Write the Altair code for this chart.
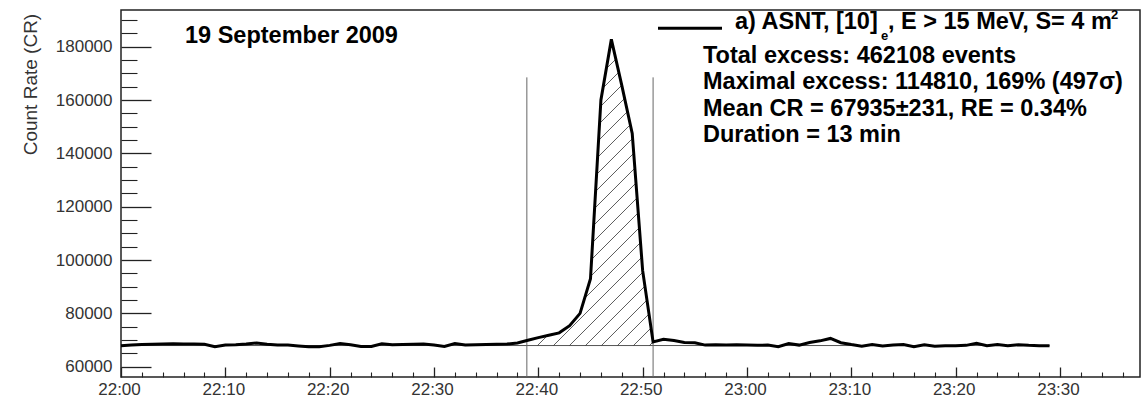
import altair as alt
import numpy as np
import pandas as pd

# ---------------- data ----------------
minutes = list(range(90))  # minutes after 22:00 (22:00 ... 23:29)
count_rate = [
    67900, 68100, 68300, 68400, 68500, 68600, 68500, 68550, 68400, 67500,
    68100, 68200, 68500, 68900, 68400, 68100, 68100, 67800, 67500, 67500,
    68000, 68700, 68200, 67600, 67600, 68600, 68200, 68300, 68400, 68500,
    68100, 67600, 68700, 68100, 68200, 68300, 68400, 68500, 68900, 69900,
    70900, 71800, 72700, 75400, 80000, 93000, 160000, 182745, 165500, 147500,
    96000, 69300, 70300, 69800, 69100, 69000, 68100, 68200, 68100, 68200,
    68100, 68000, 68100, 67500, 68700, 68100, 69100, 69700, 70600, 69000,
    68300, 67700, 68300, 67800, 68100, 68300, 67500, 68200, 67700, 67900,
    67900, 68000, 68800, 67900, 68300, 67900, 68200, 68000, 67900, 67900,
]
mean_cr = 67935
window_minutes = [38.9, 51.0]
window_top = 168500

major_x = list(range(0, 91, 10))
minor_x = [m for m in range(0, 98, 2) if m % 10]
major_y = list(range(60000, 180001, 20000))
minor_y = [v for v in range(60000, 190001, 5000) if v % 20000]

title_text = "19 September 2009"
legend_part_a = "a) ASNT, [10]"
legend_sub = "e"
legend_part_b = ", E > 15 MeV, S= 4 m"
legend_sup = "2"
info_lines = [
    "Total excess: 462108 events",
    "Maximal excess: 114810, 169% (497\u03c3)",
    "Mean CR = 67935\u00b1231, RE = 0.34%",
    "Duration = 13 min",
]

# ---------------- geometry ----------------
X_DOM = [0, 97.67]
Y_DOM = [56140, 193760]
W, H = 1019, 367
FONT = "Liberation Sans"
TXT = 23.5


def to_px(m):
    return (np.asarray(m, dtype=float) - X_DOM[0]) / (X_DOM[1] - X_DOM[0]) * W


def to_py(v):
    return (Y_DOM[1] - np.asarray(v, dtype=float)) / (Y_DOM[1] - Y_DOM[0]) * H


def from_px(x):
    return X_DOM[0] + np.asarray(x) / W * (X_DOM[1] - X_DOM[0])


def from_py(y):
    return Y_DOM[1] - np.asarray(y) / H * (Y_DOM[1] - Y_DOM[0])


# hatch segments between the curve and the mean level inside the window
HATCH_STEP = 16.0
HATCH_SLOPE = 1.0
xs = np.linspace(float(to_px(window_minutes[0])), float(to_px(window_minutes[1])), 4000)
top_y = to_py(np.interp(from_px(xs), minutes, count_rate))
bot_y = float(to_py(mean_cr))
c_lo = (top_y + HATCH_SLOPE * xs).min()
c_hi = (bot_y + HATCH_SLOPE * xs).max()
segs = []
for c in np.arange(np.floor(c_lo / HATCH_STEP) * HATCH_STEP, c_hi + HATCH_STEP, HATCH_STEP):
    ly = c - HATCH_SLOPE * xs
    inside = (ly >= top_y) & (ly <= bot_y)
    if not inside.any():
        continue
    idx = np.where(inside)[0]
    breaks = np.where(np.diff(idx) > 1)[0]
    starts = np.concatenate([[idx[0]], idx[breaks + 1]])
    ends = np.concatenate([idx[breaks], [idx[-1]]])
    for s, e in zip(starts, ends):
        if e - s < 2:
            continue
        segs.append({
            "m": float(from_px(xs[s])), "v": float(from_py(ly[s])),
            "m2": float(from_px(xs[e])), "v2": float(from_py(ly[e])),
        })
hatch_df = pd.DataFrame(segs)

curve_df = pd.DataFrame({"m": minutes, "v": count_rate})
mean_df = pd.DataFrame({"m": [minutes[0]], "m2": [minutes[-1]], "v": [mean_cr]})
win_df = pd.DataFrame({"m": window_minutes, "top": [window_top] * 2, "bottom": [Y_DOM[0]] * 2})
one = pd.DataFrame({"k": [0]})

x_scale = alt.Scale(domain=X_DOM, nice=False, zero=False)
y_scale = alt.Scale(domain=Y_DOM, nice=False, zero=False)

label_expr = ("(22 + floor(datum.value / 60)) + ':' + "
              "(datum.value % 60 < 10 ? '0' : '') + (datum.value % 60)")

x_major_axis = alt.Axis(
    orient="bottom", values=major_x, labelExpr=label_expr, tickSize=10, offset=-10,
    domain=False, grid=False, labelFontSize=17, labelColor="#333333", labelFont=FONT,
    labelPadding=4, labelOffset=-2, labelFlush=False, labelOverlap=False,
    tickColor="#222222", tickWidth=1.3, title=None,
)
x_minor_axis = alt.Axis(
    orient="bottom", values=minor_x, tickSize=5, offset=-5, domain=False, grid=False,
    labels=False, tickColor="#222222", tickWidth=1.1, title=None,
)
y_major_axis = alt.Axis(
    orient="left", values=major_y, format="d", tickSize=30, offset=-30, domain=False,
    grid=False, labelFontSize=17, labelColor="#333333", labelFont=FONT, labelPadding=9,
    labelFlush=False, labelOverlap=False, tickColor="#222222", tickWidth=1.3,
    title="Count Rate (CR)", titleFont=FONT, titleFontSize=19, titleFontWeight="normal",
    titleColor="#333333", titleAngle=270, titleAlign="right", titleBaseline="alphabetic",
    titleX=-114.5, titleY=3.3,
)
y_minor_axis = alt.Axis(
    orient="left", values=minor_y, tickSize=16, offset=-16, domain=False, grid=False,
    labels=False, tickColor="#222222", tickWidth=1.1, title=None,
)

mean_line = alt.Chart(mean_df).mark_rule(color="#555555", strokeWidth=1).encode(
    x=alt.X("m:Q", scale=x_scale, axis=x_minor_axis),
    x2="m2:Q",
    y=alt.Y("v:Q", scale=y_scale, axis=y_minor_axis),
)

win_lines = alt.Chart(win_df).mark_rule(color="#666666", strokeWidth=1).encode(
    x=alt.X("m:Q", scale=x_scale, axis=None),
    y=alt.Y("top:Q", scale=y_scale, axis=None),
    y2="bottom:Q",
)

hatch = alt.Chart(hatch_df).mark_rule(color="#333333", strokeWidth=0.8).encode(
    x=alt.X("m:Q", scale=x_scale, axis=None),
    y=alt.Y("v:Q", scale=y_scale, axis=None),
    x2="m2:Q",
    y2="v2:Q",
)

curve = alt.Chart(curve_df).mark_line(color="black", strokeWidth=3, strokeJoin="miter").encode(
    x=alt.X("m:Q", scale=x_scale, axis=x_major_axis),
    y=alt.Y("v:Q", scale=y_scale, axis=y_major_axis),
)


def label(text, x, y, size=TXT, align="left"):
    return alt.Chart(one).mark_text(
        text=text, x=x, y=y, align=align, baseline="alphabetic",
        font=FONT, fontSize=size, fontWeight="bold", color="black",
    )


title_mark = label(title_text, 64, 33.3)

legend_sample = alt.Chart(one).mark_rule(color="black", strokeWidth=3).encode(
    x=alt.value(537), x2=alt.value(601), y=alt.value(18.3)
)

piece_a = label(legend_part_a, 614, 19.3)
sub_e = label(legend_sub, 760, 30, size=13)
piece_b = label(legend_part_b, 767, 19.3)
sup_2 = label(legend_sup, 990, 9, size=13)

info_marks = [label(t, 582, 53.3 + i * 26.1) for i, t in enumerate(info_lines)]

chart = alt.layer(
    mean_line, win_lines, hatch, curve, title_mark, legend_sample,
    piece_a, sub_e, piece_b, sup_2, *info_marks,
).resolve_axis(
    x="independent", y="independent"
).properties(
    width=W, height=H, autosize="none",
    padding={"left": 121, "top": 10, "right": 2, "bottom": 27},
    background="white",
).configure_view(stroke="#222222", strokeWidth=1.5)

chart.save("out.html", embed_options={"renderer": "svg", "actions": False})
